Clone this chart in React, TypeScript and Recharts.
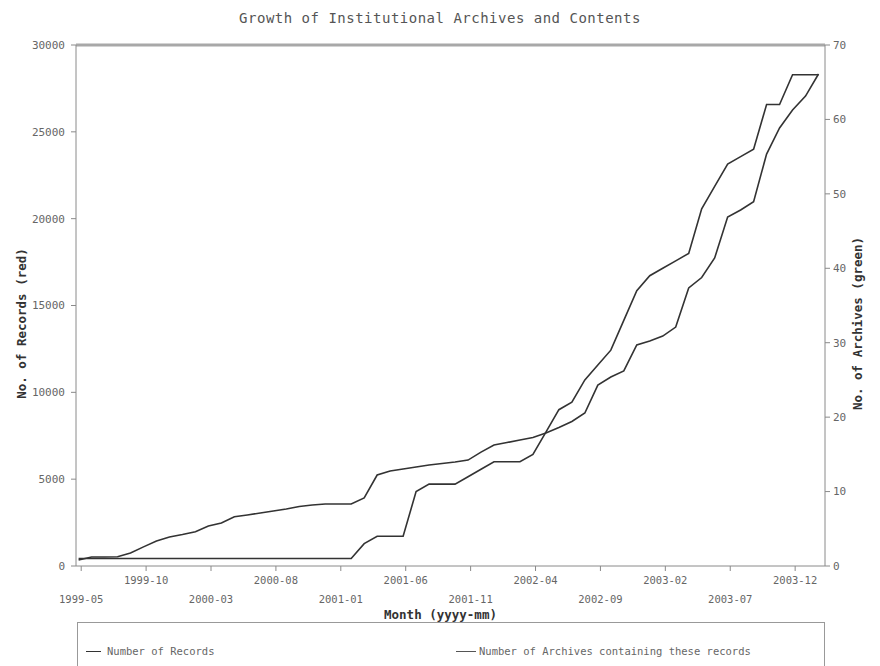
import React from 'react';
import { LineChart, Line, XAxis, YAxis, ReferenceLine } from 'recharts';

const FONT = '"DejaVu Sans Mono", "Liberation Mono", monospace';

const titleText = 'Growth of Institutional Archives and Contents';
const seriesNames = ['Number of Records', 'Number of Archives containing these records'];
const tickLabels = ['1999-05', '1999-10', '2000-03', '2000-08', '2001-01', '2001-06', '2001-11', '2002-04', '2002-09', '2003-02', '2003-07', '2003-12'];
const tickPositions = [0.2, 5.2, 10.2, 15.2, 20.2, 25.2, 30.2, 35.2, 40.2, 45.2, 50.2, 55.2];
const leftTicks = [0, 5000, 10000, 15000, 20000, 25000, 30000];
const rightTicks = [0, 10, 20, 30, 40, 50, 60, 70];

const records = [
  350, 520, 520, 535, 750, 1100, 1440, 1670, 1810, 1975,
  2300, 2480, 2840, 2940, 3050, 3170, 3280, 3430, 3510, 3570,
  3570, 3570, 3920, 5240, 5470, 5585, 5700, 5815, 5900, 5990,
  6100, 6560, 6970, 7110, 7255, 7400, 7660, 7975, 8320, 8810,
  10420, 10880, 11230, 12725, 12955, 13240, 13760, 16010, 16610, 17735,
  20100, 20500, 20975, 23720, 25220, 26260, 27060, 28330,
];

const archives = [
  1, 1, 1, 1, 1, 1, 1, 1, 1, 1,
  1, 1, 1, 1, 1, 1, 1, 1, 1, 1,
  1, 1, 3, 4, 4, 4, 10, 11, 11, 11,
  12, 13, 14, 14, 14, 15, 18, 21, 22, 25,
  27, 29, 33, 37, 39, 40, 41, 42, 48, 51,
  54, 55, 56, 62, 62, 66, 66, 66,
];

const data = records.map((r, i) => ({ m: i, records: r, archives: archives[i] }));

const XTick = (props: any) => {
  const { x, y, payload } = props;
  const k = tickPositions.findIndex((p) => Math.abs(p - payload.value) < 0.01);
  const lower = k % 2 === 0;
  return (
    <text x={x} y={y} dy={lower ? 30 : 11} textAnchor="middle" fontSize={10.5} fill="#666" fontFamily={FONT}>
      {tickLabels[k]}
    </text>
  );
};

const YLabel = (text: string, side: 'left' | 'right') => (props: any) => {
  const vb = props.viewBox || {};
  const cx = side === 'left' ? vb.x + 21 : vb.x + vb.width - 23;
  const cy = vb.y + vb.height / 2 + 18;
  return (
    <text
      x={cx}
      y={cy}
      transform={`rotate(-90 ${cx} ${cy})`}
      textAnchor="middle"
      dominantBaseline="central"
      fontSize={12.5}
      fontWeight="bold"
      fill="#333"
      fontFamily={FONT}
    >
      {text}
    </text>
  );
};

const XLabel = (props: any) => {
  const vb = props.viewBox || {};
  return (
    <text
      x={vb.x + vb.width / 2 - 10}
      y={vb.y + 53}
      textAnchor="middle"
      fontSize={12.5}
      fontWeight="bold"
      fill="#333"
      fontFamily={FONT}
    >
      Month (yyyy-mm)
    </text>
  );
};

export default function App() {
  return (
    <div style={{ position: 'relative', width: 880, height: 666, background: '#fff', overflow: 'hidden' }}>
      <style>{`body{margin:0;}`}</style>
      <div
        style={{
          position: 'absolute',
          top: 10,
          left: 0,
          width: 880,
          textAlign: 'center',
          fontFamily: FONT,
          fontSize: 14,
          letterSpacing: 0.5,
          color: '#555',
        }}
      >
        {titleText}
      </div>
      <LineChart width={880} height={622} data={data} margin={{ top: 45, right: 0, bottom: 0, left: 0 }}>
        <XAxis
          dataKey="m"
          type="number"
          domain={[-0.2, 57.5]}
          ticks={tickPositions}
          tick={<XTick />}
          tickSize={5}
          interval={0}
          height={56}
          stroke="#8a8a8a"
          allowDataOverflow
          label={{ content: XLabel }}
        />
        <YAxis
          yAxisId="left"
          orientation="left"
          width={76}
          domain={[0, 30000]}
          ticks={leftTicks}
          interval={0}
          tickSize={5}
          tickMargin={6}
          stroke="#8a8a8a"
          tick={{ fontSize: 11, fill: '#666', fontFamily: FONT }}
          label={{ content: YLabel('No. of Records (red)', 'left') }}
        />
        <YAxis
          yAxisId="right"
          orientation="right"
          width={55}
          domain={[0, 70]}
          ticks={rightTicks}
          interval={0}
          tickSize={5}
          tickMargin={3}
          stroke="#8a8a8a"
          tick={{ fontSize: 11, fill: '#666', fontFamily: FONT }}
          label={{ content: YLabel('No. of Archives (green)', 'right') }}
        />
        <ReferenceLine yAxisId="left" y={30000} stroke="#a8a8a8" strokeWidth={3} />
        <Line
          yAxisId="left"
          type="linear"
          dataKey="records"
          name={seriesNames[0]}
          stroke="#333"
          strokeWidth={1.6}
          dot={false}
          isAnimationActive={false}
        />
        <Line
          yAxisId="right"
          type="linear"
          dataKey="archives"
          name={seriesNames[1]}
          stroke="#333"
          strokeWidth={1.6}
          dot={false}
          isAnimationActive={false}
        />
      </LineChart>
      <div
        style={{
          position: 'absolute',
          top: 622,
          left: 77,
          width: 748,
          height: 50,
          border: '1px solid #999',
          boxSizing: 'border-box',
          fontFamily: FONT,
          fontSize: 10.5,
          color: '#666',
        }}
      >
        <div style={{ position: 'absolute', left: 8, top: 22, display: 'flex', alignItems: 'center' }}>
          <span style={{ display: 'inline-block', width: 15, height: 0, borderTop: '1.5px solid #333', marginRight: 6 }} />
          <span>{seriesNames[0]}</span>
        </div>
        <div style={{ position: 'absolute', left: 378, top: 22, display: 'flex', alignItems: 'center' }}>
          <span style={{ display: 'inline-block', width: 20, height: 0, borderTop: '1.5px solid #555', marginRight: 3 }} />
          <span>{seriesNames[1]}</span>
        </div>
      </div>
    </div>
  );
}
